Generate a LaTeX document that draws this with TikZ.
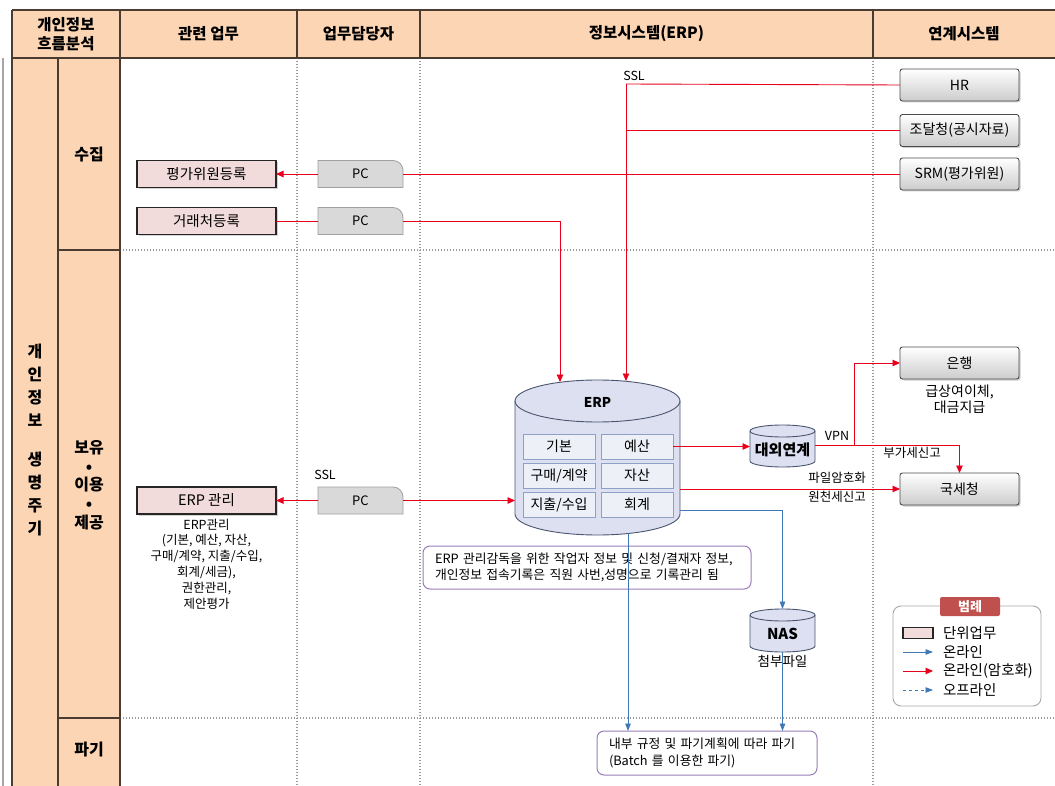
\documentclass[tikz,border=0pt]{standalone}
\usepackage{fontspec}
\setmainfont{Noto Sans CJK KR}
\usetikzlibrary{arrows.meta,shadows,backgrounds,calc}
\definecolor{peach}{HTML}{FCD5B4}
\definecolor{pinkbox}{HTML}{F2DCDB}
\definecolor{redline}{HTML}{E8001C}
\definecolor{blueline}{HTML}{3F78B5}
\definecolor{cylfill}{HTML}{DDE0F0}
\definecolor{cylline}{HTML}{4A5670}
\definecolor{cellfill}{HTML}{EEF0F8}
\definecolor{cellline}{HTML}{8EA0C8}
\definecolor{purp}{HTML}{9A7DB8}
\definecolor{legred}{HTML}{C0504D}
\definecolor{gridgray}{HTML}{9A9A9A}
\definecolor{framec}{HTML}{4A3C30}
\definecolor{pcfill}{HTML}{D9D9D9}
\definecolor{pcline}{HTML}{A0A0A0}
\newcommand\fz[2]{\fontsize{#1}{#2}\selectfont}
\tikzset{
  every node/.style={inner sep=0pt, outer sep=0pt},
  hdr/.style={font=\fz{15.5}{18.5}\bfseries, align=center},
  side/.style={font=\fz{16}{18.7}\bfseries, align=center},
  task/.style={draw=black!85, line width=1.1pt, fill=pinkbox, minimum width=139pt, minimum height=27pt,
    drop shadow={shadow xshift=1.5pt, shadow yshift=-1.5pt, opacity=0.35}, font=\fz{14.5}{16}},
  pcnode/.style={minimum width=85pt, minimum height=27pt, font=\fz{13}{15}},
  pcshape/.style={fill=pcfill, draw=pcline, line width=0.8pt},
  sysbox/.style={draw=black!70, line width=0.9pt, rounded corners=2.5pt, top color=white, bottom color=black!20,
    minimum width=119pt, minimum height=32pt,
    drop shadow={shadow xshift=1.5pt, shadow yshift=-1.5pt, opacity=0.4}, font=\fz{14}{16}},
  cell/.style={draw=cellline, fill=cellfill, line width=0.7pt, minimum width=72pt, minimum height=25pt, font=\fz{14}{16}},
  cyl/.style={fill=cylfill, draw=cylline, line width=0.9pt},
  rl/.style={draw=redline, line width=0.9pt},
  rarr/.style={rl, -{Triangle[length=7.5pt,width=6.5pt]}},
  barr/.style={draw=blueline, line width=0.9pt, -{Triangle[length=7.5pt,width=5.5pt]}},
  bdarr/.style={barr, dashed},
  dotgrid/.style={draw=gridgray, line width=1.3pt, dash pattern=on 1.3pt off 1.7pt},
  frameline/.style={draw=framec, line width=1.1pt},
  lbl/.style={font=\fz{12.5}{14}},
  note/.style={draw=purp, line width=1pt, rounded corners=7pt, fill=white, align=left, inner xsep=12pt},
  legtxt/.style={anchor=west, font=\fz{14.5}{16}},
}
\begin{document}
\begin{tikzpicture}[x=1pt,y=-1pt]
\useasboundingbox (0,0) rectangle (1055,786);
% ---------- frame ----------
\fill[peach] (12,10) rectangle (1055,58);
\fill[peach] (12,58) rectangle (120,786);
\draw[gray!70, line width=1.4pt] (3,58) -- (3,786);
\foreach \yy in {250,718} \draw[dotgrid] (120,\yy) -- (1055,\yy);
\foreach \xx in {297,420,873} \draw[dotgrid] (\xx,58) -- (\xx,786);
\draw[frameline] (12,10) -- (1055,10);
\draw[frameline] (12,58) -- (1055,58);
\draw[frameline] (12,10) -- (12,786);
\draw[frameline] (120,10) -- (120,786);
\draw[frameline] (58,58) -- (58,786);
\draw[frameline] (58,250) -- (120,250);
\draw[frameline] (58,718) -- (120,718);
\foreach \xx in {297,420,873} \draw[frameline] (\xx,10) -- (\xx,58);
% ---------- headers ----------
\node[hdr] (h0) at (66,34) {개인정보\\흐름분석};
\node[hdr] (h1) at (208.5,34) {관련 업무};
\node[hdr] (h2) at (358.5,34) {업무담당자};
\node[hdr] (h3) at (646.5,34) {정보시스템(ERP)};
\node[hdr] (h4) at (964,34) {연계시스템};
\node[font=\fz{16}{23}\bfseries, align=center] (life) at (35,440) {개\\인\\정\\보\\[16pt]생\\명\\주\\기};
\node[side] (s1) at (89,155) {수집};
\node[side] (s2) at (89,485) {보유\\•\\이용\\•\\제공};
\node[side] (s3) at (89,750) {파기};
% ---------- task boxes ----------
\node[task] (t1) at (206.5,174) {평가위원등록};
\node[task] (t2) at (206.5,221) {거래처등록};
\node[task] (t3) at (206.5,500.5) {ERP 관리};
\node[align=center, font=\fz{12.5}{15.8}] (t3d) at (206.5,564) {ERP관리\\(기본, 예산, 자산,\\구매/계약, 지출/수입,\\회계/세금),\\권한관리,\\제안평가};
% ---------- PC ----------
\node[pcnode] (pc1) at (360.5,174) {PC};
\node[pcnode] (pc2) at (360.5,221) {PC};
\node[pcnode] (pc3) at (360.5,500.5) {PC};
\begin{scope}[on background layer]
\foreach \n in {pc1,pc2,pc3}
  \draw[pcshape] (\n.south west) -- (\n.north west) -- ([xshift=-10pt]\n.north east)
    arc[start angle=-90, end angle=0, radius=10] -- (\n.south east) -- cycle;
\end{scope}
% ---------- external systems ----------
\node[sysbox] (hr) at (959.5,85) {HR};
\node[sysbox] (jo) at (959.5,130.5) {조달청(공시자료)};
\node[sysbox] (srm) at (959.5,174) {SRM(평가위원)};
\node[sysbox] (bank) at (959.5,363) {은행};
\node[align=center, font=\fz{14}{15.5}] (bankd) at (959.5,399.5) {급상여이체,\\대금지급};
\node[sysbox] (nts) at (959.5,489) {국세청};
% ---------- ERP cylinder ----------
\node[minimum width=165pt, minimum height=155pt] (erp) at (597.5,457.5) {};
\fill[cyl] (515,401) -- (515,514) arc[start angle=180, end angle=0, x radius=82.5, y radius=21]
  -- (680,401) arc[start angle=0, end angle=-180, x radius=82.5, y radius=21] -- cycle;
\draw[cylline, line width=0.9pt] (515,401) arc[start angle=180, end angle=0, x radius=82.5, y radius=21];
\node[font=\fz{13.5}{15}\bfseries] (erpl) at (597.5,402) {ERP};
\node[cell] (c11) at (559,446.5) {기본};
\node[cell] (c12) at (637,446.5) {예산};
\node[cell] (c21) at (559,475.5) {구매/계약};
\node[cell] (c22) at (637,475.5) {자산};
\node[cell] (c31) at (559,504.5) {지출/수입};
\node[cell] (c32) at (637,504.5) {회계};
% ---------- small cylinders ----------
\node[minimum width=65pt, minimum height=42pt] (dae) at (782.5,446) {};
\fill[cyl] (750,431) -- (750,461) arc[start angle=180, end angle=0, x radius=32.5, y radius=6]
  -- (815,431) arc[start angle=0, end angle=-180, x radius=32.5, y radius=6] -- cycle;
\draw[cylline, line width=0.9pt] (750,431) arc[start angle=180, end angle=0, x radius=32.5, y radius=6];
\node[font=\fz{15}{16}\bfseries] (daet) at (782.5,450) {대외연계};
\node[minimum width=65pt, minimum height=43pt] (nas) at (782.5,630.5) {};
\fill[cyl] (750,615) -- (750,646) arc[start angle=180, end angle=0, x radius=32.5, y radius=6]
  -- (815,615) arc[start angle=0, end angle=-180, x radius=32.5, y radius=6] -- cycle;
\draw[cylline, line width=0.9pt] (750,615) arc[start angle=180, end angle=0, x radius=32.5, y radius=6];
\node[font=\fz{15}{16}\bfseries] (nast) at (782.5,634) {NAS};
\node[font=\fz{13.5}{15}] (nasd) at (782.5,661) {첨부파일};
% ---------- notes ----------
\node[note, minimum width=328pt, minimum height=43pt, text width=304pt, font=\fz{12.8}{15.5}] (note1) at (587,567.5)
  {ERP 관리감독을 위한 작업자 정보 및 신청/결재자 정보,\\개인정보 접속기록은 직원 사번,성명으로 기록관리 됨};
\node[note, minimum width=220pt, minimum height=44pt, text width=196pt, font=\fz{12.8}{17}] (pg) at (707,753)
  {내부 규정 및 파기계획에 따라 파기\\(Batch 를 이용한 파기)};
% ---------- coordinates ----------
\coordinate (ssl) at (626,84);
\coordinate (erpin1) at (626,381);
\coordinate (erpin2) at (560,382);
\coordinate (erpout) at (680,489);
\coordinate (erpblue) at (680,510);
\coordinate (erpbot) at (628,533);
\coordinate (vpn) at (854,445);
% ---------- red connectors ----------
\draw[rl] (hr.west) -- (ssl);
\draw[rarr] (ssl) -- (erpin1);
\node[lbl] (ssll) at (634,76) {SSL};
\draw[rl] (jo.west) -- (jo.west -| ssl);
\draw[rl] (srm.west) -- (pc1.east);
\draw[rarr] (pc1.west) -- (t1.east);
\draw[rl] (t2.east) -- (pc2.west);
\draw[rarr] (pc2.east) -- (pc2.east -| erpin2) -- (erpin2);
\draw[rarr] (pc3.west) -- (t3.east);
\draw[rarr] (pc3.east) -- (erp.west |- pc3.east);
\node[lbl] (ssl2) at (325,475) {SSL};
\draw[rarr] (c12.east) -- (dae.west |- c12.east);
\draw[rarr] (dae.east |- vpn) -- (vpn -| nts.north) -- (nts.north);
\draw[rarr] (vpn) -- (vpn |- bank.west) -- (bank.west);
\node[lbl] (vpnl) at (837,436) {VPN};
\node[lbl] (vat) at (912,453) {부가세신고};
\draw[rarr] (erpout) -- (nts.west);
\node[lbl] (enc) at (837,478) {파일암호화};
\node[lbl] (wht) at (837,497) {원천세신고};
% ---------- blue connectors ----------
\draw[barr] (erpblue) -- (erpblue -| nas.north) -- (nas.north);
\draw[barr] (nas.south) -- (nas.south |- pg.north);
\draw[barr] (erpbot) -- (erpbot |- pg.north);
% ---------- legend ----------
\node[draw=gray!70, line width=0.9pt, rounded corners=8pt, minimum width=148pt, minimum height=100pt] (leg) at (967,656) {};
\node[fill=legred, rounded corners=2pt, minimum width=60pt, minimum height=19pt, text=white, font=\fz{13}{14}\bfseries] (legt) at (970,606.5) {범례};
\node[fill=pinkbox, draw=black!85, line width=1.1pt, minimum width=30pt, minimum height=11pt] (lg1) at (918,633) {};
\node[legtxt] (lg1t) at (943,633) {단위업무};
\coordinate (lg2a) at (903,652); \coordinate (lg2b) at (933,652);
\draw[barr] (lg2a) -- (lg2b);
\node[legtxt] (lg2t) at (943,652) {온라인};
\coordinate (lg3a) at (903,671); \coordinate (lg3b) at (933,671);
\draw[rarr] (lg3a) -- (lg3b);
\node[legtxt] (lg3t) at (943,671) {온라인(암호화)};
\coordinate (lg4a) at (903,690); \coordinate (lg4b) at (933,690);
\draw[bdarr] (lg4a) -- (lg4b);
\node[legtxt] (lg4t) at (943,690) {오프라인};
\end{tikzpicture}
\end{document}
